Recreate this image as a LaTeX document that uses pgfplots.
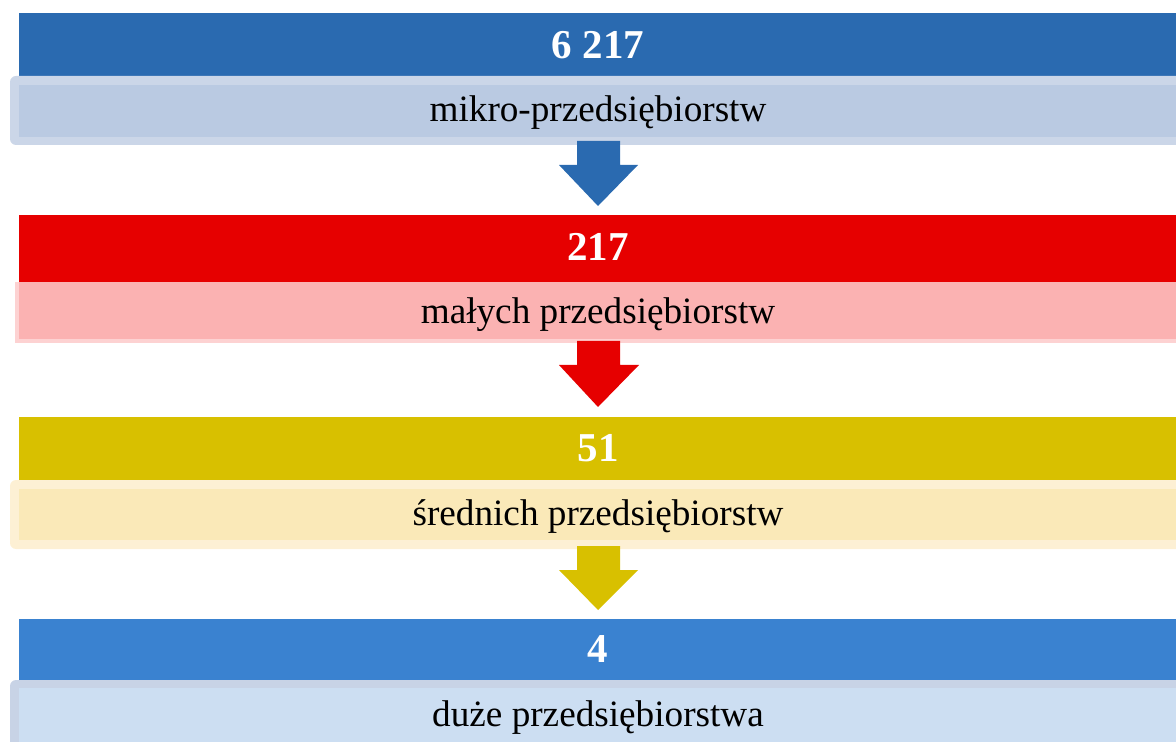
\documentclass[border=0pt]{standalone}
\usepackage{pgfplots}
\pgfplotsset{compat=1.18}
\usepackage{fontspec}
\setmainfont{Liberation Serif}

% kolory
\definecolor{c1}{HTML}{2A6AB0}
\definecolor{c1l}{HTML}{BACAE2}
\definecolor{c1b}{HTML}{CBD6E8}
\definecolor{c2}{HTML}{E60000}
\definecolor{c2l}{HTML}{FBB2B2}
\definecolor{c2b}{HTML}{FDD2D2}
\definecolor{c3}{HTML}{D8C000}
\definecolor{c3l}{HTML}{FAE9B8}
\definecolor{c3b}{HTML}{FDF0D4}
\definecolor{c4}{HTML}{3A82D0}
\definecolor{c4l}{HTML}{CCDEF2}
\definecolor{c4b}{HTML}{C8D3E6}

\newcommand{\numfont}{\fontsize{20.5}{22}\selectfont\bfseries\color{white}}
\newcommand{\labfont}{\fontsize{18.6}{20}\selectfont\color{black}}

\begin{document}
\begin{tikzpicture}
\begin{axis}[
    width=588pt, height=371pt,
    scale only axis,
    xmin=0, xmax=1176,
    ymin=0, ymax=742,
    y dir=reverse,
    hide axis,
    clip=true,
]
% ramka obrazka
\addplot[draw=none] coordinates {(0,0) (1176,742)};

% --- poziom 1: mikro
\addplot[fill=c1, draw=none] coordinates {(19,13) (1180,13) (1180,76) (19,76)} -- cycle;
\addplot[fill=c1b, draw=none, rounded corners=3pt] coordinates {(10,76) (1190,76) (1190,145) (10,145)} -- cycle;
\addplot[fill=c1l, draw=none] coordinates {(19,85) (1180,85) (1180,137) (19,137)} -- cycle;
\addplot[fill=c1, draw=none] coordinates {(577,141) (620,141) (620,165) (638,165) (598,206) (559,165) (577,165)} -- cycle;

% --- poziom 2: male
\addplot[fill=c2, draw=none] coordinates {(19,215) (1180,215) (1180,282) (19,282)} -- cycle;
\addplot[fill=c2b, draw=none] coordinates {(15,282) (1190,282) (1190,343) (15,343)} -- cycle;
\addplot[fill=c2l, draw=none] coordinates {(19,282) (1180,282) (1180,339) (19,339)} -- cycle;
\addplot[fill=c2, draw=none] coordinates {(577,341) (620,341) (620,365) (639,365) (598,407) (559,365) (577,365)} -- cycle;

% --- poziom 3: srednie
\addplot[fill=c3, draw=none] coordinates {(19,417) (1180,417) (1180,480) (19,480)} -- cycle;
\addplot[fill=c3b, draw=none, rounded corners=3pt] coordinates {(10,480) (1190,480) (1190,549) (10,549)} -- cycle;
\addplot[fill=c3l, draw=none] coordinates {(19,489) (1180,489) (1180,540) (19,540)} -- cycle;
\addplot[fill=c3, draw=none] coordinates {(577,546) (620,546) (620,570) (638,570) (598,610) (559,570) (577,570)} -- cycle;

% --- poziom 4: duze
\addplot[fill=c4, draw=none] coordinates {(19,619) (1180,619) (1180,680) (19,680)} -- cycle;
\addplot[fill=c4b, draw=none, rounded corners=3pt] coordinates {(10,680) (1190,680) (1190,760) (10,760)} -- cycle;
\addplot[fill=c4l, draw=none] coordinates {(19,688) (1180,688) (1180,760) (19,760)} -- cycle;

% teksty
\node[font=\numfont] at (axis cs:598,45) {6 217};
\node[font=\labfont] at (axis cs:598,113) {mikro-przedsiębiorstw};
\node[font=\numfont] at (axis cs:598,247) {217};
\node[font=\labfont] at (axis cs:598,315) {małych przedsiębiorstw};
\node[font=\numfont] at (axis cs:598,448) {51};
\node[font=\labfont] at (axis cs:598,517) {średnich przedsiębiorstw};
\node[font=\numfont] at (axis cs:598,649) {4};
\node[font=\labfont] at (axis cs:598,718) {duże przedsiębiorstwa};
\end{axis}
\end{tikzpicture}
\end{document}
